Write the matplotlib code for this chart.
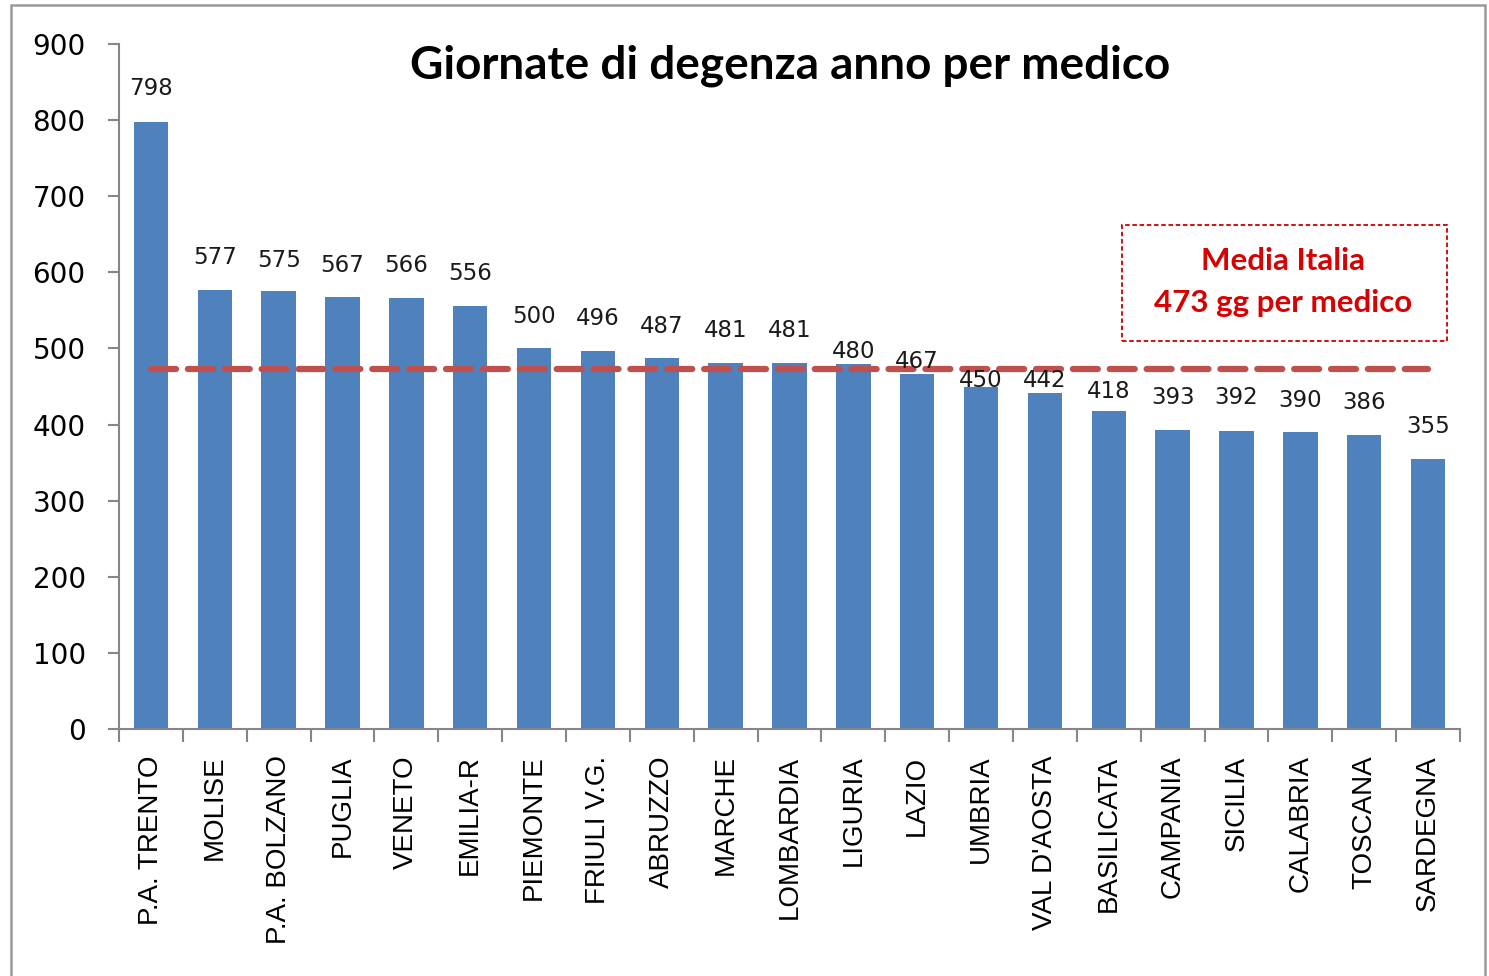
import matplotlib
matplotlib.use("Agg")
import matplotlib.pyplot as plt
from matplotlib.patches import Rectangle

regions = ["P.A. TRENTO", "MOLISE", "P.A. BOLZANO", "PUGLIA", "VENETO", "EMILIA-R",
           "PIEMONTE", "FRIULI V.G.", "ABRUZZO", "MARCHE", "LOMBARDIA", "LIGURIA",
           "LAZIO", "UMBRIA", "VAL D'AOSTA", "BASILICATA", "CAMPANIA", "SICILIA",
           "CALABRIA", "TOSCANA", "SARDEGNA"]
values = [798, 577, 575, 567, 566, 556, 500, 496, 487, 481, 481, 480,
          467, 450, 442, 418, 393, 392, 390, 386, 355]
media_italia = 473
yticks = [0, 100, 200, 300, 400, 500, 600, 700, 800, 900]
# vertical offset of each data label above its bar (points); a few were nudged in the original
label_offsets = [23.5, 23, 22.5, 23, 23.5, 23.5, 23, 23.5, 23, 23, 23, 8.6,
                 8.6, 4.5, 8.6, 14, 23.5, 24, 23, 23.5, 23.5]

W, H = 1489, 976
fig = plt.figure(figsize=(W / 100, H / 100), dpi=100)
fig.patches.append(Rectangle((11 / W, -0.01), (1485 - 11) / W, 1 - 5 / H + 0.01,
                             transform=fig.transFigure, fill=False,
                             edgecolor="#9a9a9a", linewidth=1.8))

ax = fig.add_axes([119 / W, 1 - 729 / H, (1460 - 119) / W, (729 - 44) / H])
x = list(range(len(regions)))
ax.bar(x, values, width=0.54, color="#4F81BD", zorder=2)
ax.set_xlim(-0.5, len(regions) - 0.5)
ax.set_ylim(0, 900)

for xi, v, off in zip(x, values, label_offsets):
    ax.annotate(str(v), (xi, v), xytext=(0, off), textcoords="offset points",
                ha="center", va="center", fontsize=16.5, family="DejaVu Sans",
                color="#1a1a1a", zorder=4)

ax.plot([0, len(regions) - 1], [media_italia, media_italia], color="#C0504D",
        linewidth=4.5, dashes=(4.0, 1.9), dash_capstyle="round", zorder=3)

for s in ["top", "right"]:
    ax.spines[s].set_visible(False)
for s in ["left", "bottom"]:
    ax.spines[s].set_color("#868686")
    ax.spines[s].set_linewidth(1.5)

ax.set_yticks(yticks)
ax.set_yticklabels([str(t) for t in yticks], fontsize=20, family="DejaVu Sans")
ax.tick_params(axis="y", length=8, width=1.5, color="#868686", pad=16)

ax.set_xticks([i + 0.5 for i in range(-1, len(regions))], minor=False)
ax.set_xticklabels([])
ax.tick_params(axis="x", which="major", length=9, width=1.5, color="#868686")
ax.set_xticks(x, minor=True)
ax.set_xticklabels(regions, minor=True, rotation=90, fontsize=20,
                   family="Liberation Sans", va="top", ha="center")
ax.tick_params(axis="x", which="minor", length=0, pad=19)

fig.text(790 / W, 1 - 66 / H, "Giornate di degenza anno per medico",
         ha="center", va="center", fontsize=33, fontweight="bold", family="Lato",
         color="#000000")

box = Rectangle((1122 / W, 1 - 341 / H), (1447 - 1122) / W, (341 - 225) / H,
                transform=fig.transFigure, fill=False, edgecolor="#CC0000",
                linewidth=1.3, linestyle=(0, (2.5, 1.5)))
fig.patches.append(box)
fig.text(1283 / W, 1 - 261 / H, "Media Italia", ha="center", va="center",
         fontsize=22.5, fontweight="bold", family="Lato", color="#D80000")
fig.text(1283 / W, 1 - 303 / H, "473 gg per medico", ha="center", va="center",
         fontsize=22.5, fontweight="bold", family="Lato", color="#D80000")

fig.savefig("out.png", dpi=100)
